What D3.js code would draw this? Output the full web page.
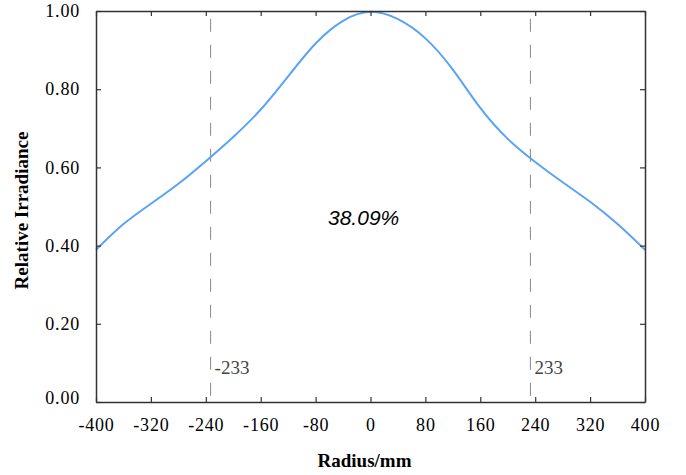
<!DOCTYPE html>
<html>
<head>
<meta charset="utf-8">
<script src="https://cdn.jsdelivr.net/npm/d3@7"></script>
<style>
  body { margin: 0; background: #fff; }
  svg { display: block; }
</style>
</head>
<body>
<script>
// radius (mm) and relative irradiance
const radius = [-400, -360, -320, -280, -240, -200, -160, -120, -80, -40, 0, 40, 80, 120, 160, 200, 240, 280, 320, 360, 400]
const irradiance = [0.389, 0.455, 0.507, 0.558, 0.616, 0.678, 0.748, 0.833, 0.917, 0.975, 0.998, 0.979, 0.930, 0.850, 0.752, 0.673, 0.614, 0.562, 0.512, 0.455, 0.389]
const xTicks = [-400, -320, -240, -160, -80, 0, 80, 160, 240, 320, 400]
const yTicks = [0, 0.2, 0.4, 0.6, 0.8, 1.0]
const edges = [-233, 233]
const ratioLabel = '38.09%'

const width = 686
const height = 475
const margin = { left: 96, right: 41, top: 11, bottom: 73 }

const svg = d3.select('body')
  .append('svg')
  .attr('width', width)
  .attr('height', height)

const x = d3.scaleLinear()
  .domain([-400, 400])
  .range([margin.left, width - margin.right])

const y = d3.scaleLinear()
  .domain([0, 1])
  .range([height - margin.bottom, margin.top])

const serif = '"Liberation Serif", "Times New Roman", serif'
const axisColor = '#333'

// dashed edge lines
svg.selectAll('line.edge')
  .data(edges)
  .enter()
  .append('line')
  .attr('class', 'edge')
  .attr('x1', d => x(d))
  .attr('x2', d => x(d))
  .attr('y1', y(0.98))
  .attr('y2', y(0))
  .attr('stroke', '#888')
  .attr('stroke-width', 1)
  .attr('stroke-dasharray', '13,13')

svg.selectAll('text.edge')
  .data(edges)
  .enter()
  .append('text')
  .attr('class', 'edge')
  .attr('x', d => x(d) + 4)
  .attr('y', y(0.072))
  .attr('font-family', serif)
  .attr('font-size', 19)
  .attr('fill', '#444')
  .text(d => String(d))

// curve
const line = d3.line()
  .x((d, i) => x(radius[i]))
  .y(d => y(d))
  .curve(d3.curveNatural)

svg.append('path')
  .datum(irradiance)
  .attr('d', line)
  .attr('fill', 'none')
  .attr('stroke', '#5ba2f7')
  .attr('stroke-width', 2)

// frame axes, ticks pointing inward
const gx = svg.append('g')
  .attr('transform', 'translate(0,' + y(0) + ')')
  .call(d3.axisBottom(x).tickValues(xTicks).tickSizeInner(-5).tickSizeOuter(0).tickPadding(16).tickFormat(d => String(d)))
const gxTop = svg.append('g')
  .attr('transform', 'translate(0,' + y(1) + ')')
  .call(d3.axisTop(x).tickValues(xTicks).tickSizeInner(-5).tickSizeOuter(0).tickFormat(''))
const gy = svg.append('g')
  .attr('transform', 'translate(' + x(-400) + ',0)')
  .call(d3.axisLeft(y).tickValues(yTicks).tickSizeInner(-5).tickSizeOuter(0).tickPadding(16).tickFormat(d3.format('.2f')))
const gyRight = svg.append('g')
  .attr('transform', 'translate(' + x(400) + ',0)')
  .call(d3.axisRight(y).tickValues(yTicks).tickSizeInner(-5).tickSizeOuter(0).tickFormat(''))

;[gx, gxTop, gy, gyRight].forEach(g => {
  g.select('.domain').attr('stroke', axisColor).attr('stroke-width', 1.5)
  g.selectAll('.tick line').attr('stroke', axisColor).attr('stroke-width', 1.2)
  g.selectAll('.tick text')
    .attr('font-family', serif)
    .attr('font-size', 18)
    .attr('letter-spacing', '0.8px')
    .attr('fill', '#000')
})
gy.selectAll('.tick text').filter(d => d === 0).attr('dy', '0.1em')

// titles
svg.append('text')
  .attr('x', x(0) - 6)
  .attr('y', 467)
  .attr('text-anchor', 'middle')
  .attr('font-family', serif)
  .attr('font-weight', 'bold')
  .attr('font-size', 19)
  .text('Radius/mm')

svg.append('text')
  .attr('transform', 'translate(28,' + (y(0.5) + 4) + ') rotate(-90)')
  .attr('text-anchor', 'middle')
  .attr('font-family', serif)
  .attr('font-weight', 'bold')
  .attr('font-size', 19)
  .text('Relative Irradiance')

svg.append('text')
  .attr('x', x(-10))
  .attr('y', 225)
  .attr('text-anchor', 'middle')
  .attr('font-family', '"Liberation Sans", Arial, sans-serif')
  .attr('font-style', 'italic')
  .attr('font-size', 21)
  .text(ratioLabel)
</script>
</body>
</html>
